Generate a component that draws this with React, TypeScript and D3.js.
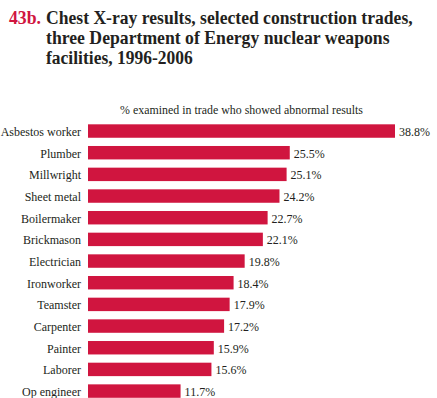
import React from "react";
import * as d3 from "d3";

const trades = ["Asbestos worker","Plumber","Millwright","Sheet metal","Boilermaker","Brickmason","Electrician","Ironworker","Teamster","Carpenter","Painter","Laborer","Op engineer"];
const values = [38.8,25.5,25.1,24.2,22.7,22.1,19.8,18.4,17.9,17.2,15.9,15.6,11.7];
const titleLines = ["Chest X-ray results, selected construction trades,","three Department of Energy nuclear weapons","facilities, 1996-2006"];
const titleWidths = [367, 344, 147];
const subtitle = "% examined in trade who showed abnormal results";

let ctx: CanvasRenderingContext2D | null = null;
function measure(t: string, font: string): number {
  if (!ctx) ctx = document.createElement("canvas").getContext("2d");
  if (!ctx) return 0;
  ctx.font = font;
  return ctx.measureText(t).width;
}

export default function App() {
  const W = 437, H = 398;
  const x0 = 88;
  const x = d3.scaleLinear().domain([0, 38.8]).range([x0, 395]);
  const y = d3.scaleBand().domain(trades).range([120.2, 120.2 + 21.67 * 13]).paddingInner(0.38).paddingOuter(0.19);
  const ff = "Liberation Serif";
  const sx = 0.89;
  const fit = (t: string, font: string, target: number) => {
    const w = measure(t, font);
    return w > 0 ? target / w : 0.92;
  };
  const tFont = `bold 19.5px "${ff}"`;
  return (
    <svg width={W} height={H} style={{ position: "absolute", left: 0, top: 0, background: "#fff" }}>
      <text transform={`translate(9,24) scale(${fit("43b.", tFont, 32)},1)`} fontFamily={ff} fontSize={19.5} fontWeight="bold" fill="#D0153F">43b.</text>
      {titleLines.map((t, i) => (
        <text key={i} transform={`translate(46,${24 + i * 20}) scale(${fit(t, tFont, titleWidths[i])},1)`} fontFamily={ff} fontSize={19.5} fontWeight="bold" fill="#231F20">{t}</text>
      ))}
      <text transform={`translate(120,114) scale(${fit(subtitle, `12.8px "${ff}"`, 243)},1)`} fontFamily={ff} fontSize={12.8} fill="#231F20">{subtitle}</text>
      {trades.map((t, i) => {
        const cy = y(t)! + y.bandwidth() / 2 + 5;
        return (
          <g key={t}>
            <rect x={x0} y={y(t)} width={x(values[i]) - x0} height={y.bandwidth()} fill="#D0153F" />
            <text transform={`translate(81,${cy}) scale(${sx},1)`} fontFamily={ff} fontSize={13.5} textAnchor="end" fill="#231F20">{t}</text>
            <text transform={`translate(${x(values[i]) + 4},${cy}) scale(${sx},1)`} fontFamily={ff} fontSize={13.5} fill="#231F20">{values[i].toFixed(1)}%</text>
          </g>
        );
      })}
    </svg>
  );
}
